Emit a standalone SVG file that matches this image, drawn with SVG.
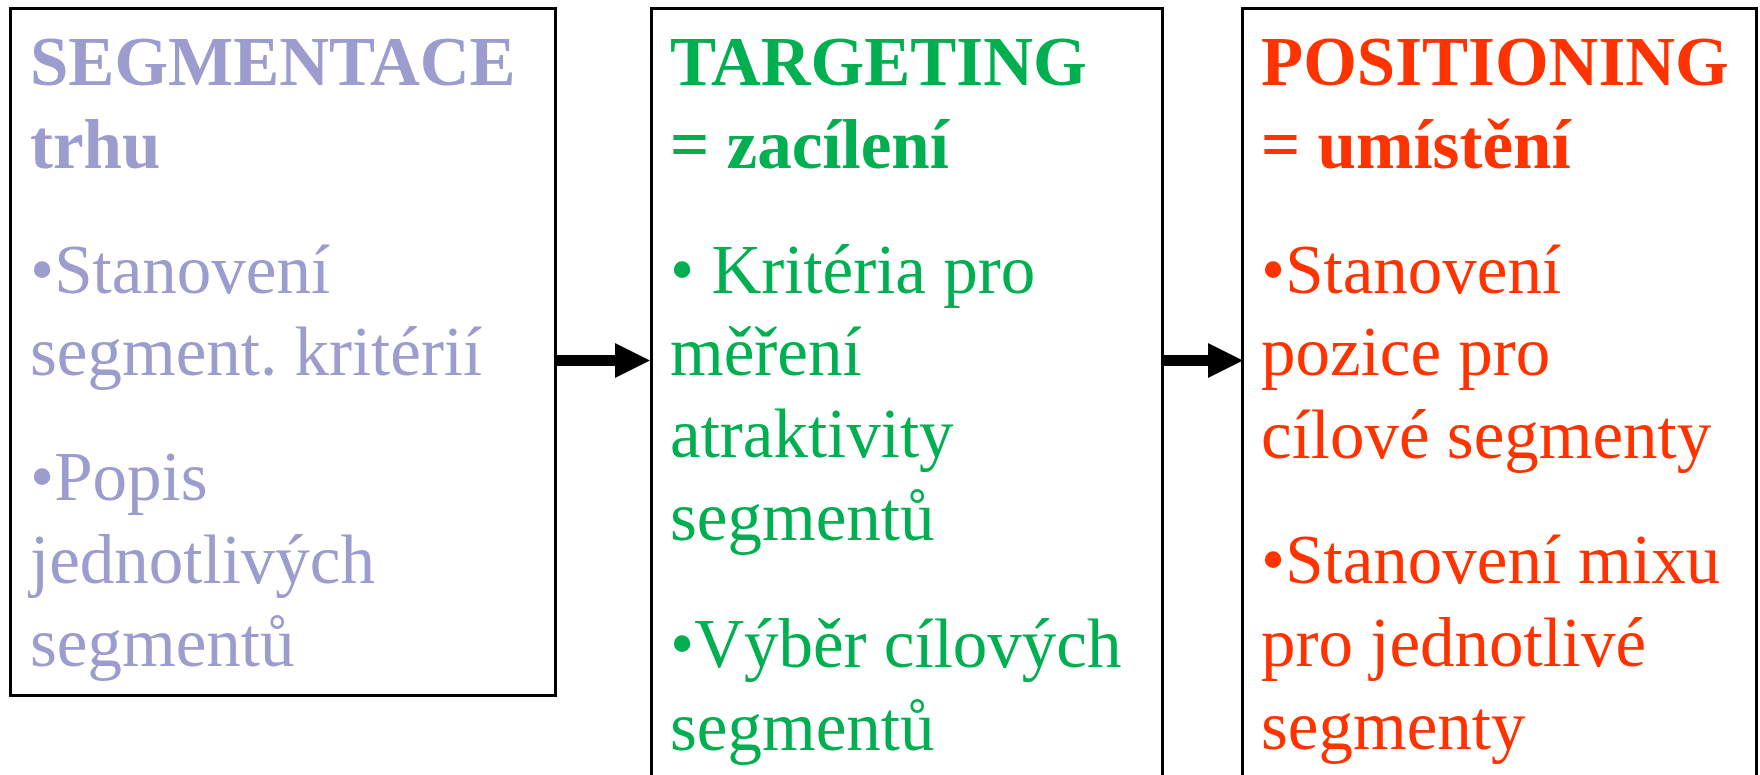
<svg xmlns="http://www.w3.org/2000/svg" width="1760" height="775" viewBox="0 0 1760 775">
<style>
.box{fill:#fff;stroke:#000;stroke-width:3}
.t{font-family:"Liberation Serif","Times New Roman",serif;font-size:69px}
.h{font-weight:bold;font-size:69px}
.c1{fill:#9C9CCE}
.c2{fill:#00B050}
.c3{fill:#FF3300}
.arrow{stroke:#000;stroke-width:11;fill:none}
</style>
<defs>
<marker id="ah" markerUnits="userSpaceOnUse" markerWidth="35" markerHeight="35" refX="0" refY="17.5" orient="auto" overflow="visible">
<path d="M0,0 L35,17.5 L0,35 Z" fill="#000"/>
</marker>
</defs>
<rect width="1760" height="775" fill="#fff"/>
<g id="segmentace">
<rect class="box" x="10.5" y="8.5" width="545" height="687"/>
<text class="t h c1" x="30" y="85">SEGMENTACE</text>
<text class="t h c1" x="30" y="168">trhu</text>
<text class="t c1" x="30" y="293">•Stanovení</text>
<text class="t c1" x="30" y="375">segment. kritérií</text>
<text class="t c1" x="30" y="500">•Popis</text>
<text class="t c1" x="30" y="583">jednotlivých</text>
<text class="t c1" x="30" y="666">segmentů</text>
</g>
<g id="targeting">
<rect class="box" x="651.5" y="8.5" width="511" height="800"/>
<text class="t h c2" x="670" y="85">TARGETING</text>
<text class="t h c2" x="670" y="168">= zacílení</text>
<text class="t c2" x="670" y="293">• Kritéria pro</text>
<text class="t c2" x="670" y="375">měření</text>
<text class="t c2" x="670" y="457">atraktivity</text>
<text class="t c2" x="670" y="540">segmentů</text>
<text class="t c2" x="670" y="667">•Výběr cílových</text>
<text class="t c2" x="670" y="750">segmentů</text>
</g>
<g id="positioning">
<rect class="box" x="1242.5" y="8.5" width="514" height="800"/>
<text class="t h c3" x="1261" y="85">POSITIONING</text>
<text class="t h c3" x="1261" y="168">= umístění</text>
<text class="t c3" x="1261" y="293">•Stanovení</text>
<text class="t c3" x="1261" y="375">pozice pro</text>
<text class="t c3" x="1261" y="458">cílové segmenty</text>
<text class="t c3" x="1261" y="583">•Stanovení mixu</text>
<text class="t c3" x="1261" y="666">pro jednotlivé</text>
<text class="t c3" x="1261" y="749">segmenty</text>
</g>
<g id="connectors">
<line class="arrow" x1="557" y1="360.5" x2="615" y2="360.5" marker-end="url(#ah)"/>
<line class="arrow" x1="1164" y1="360.5" x2="1208" y2="360.5" marker-end="url(#ah)"/>
</g>
</svg>
